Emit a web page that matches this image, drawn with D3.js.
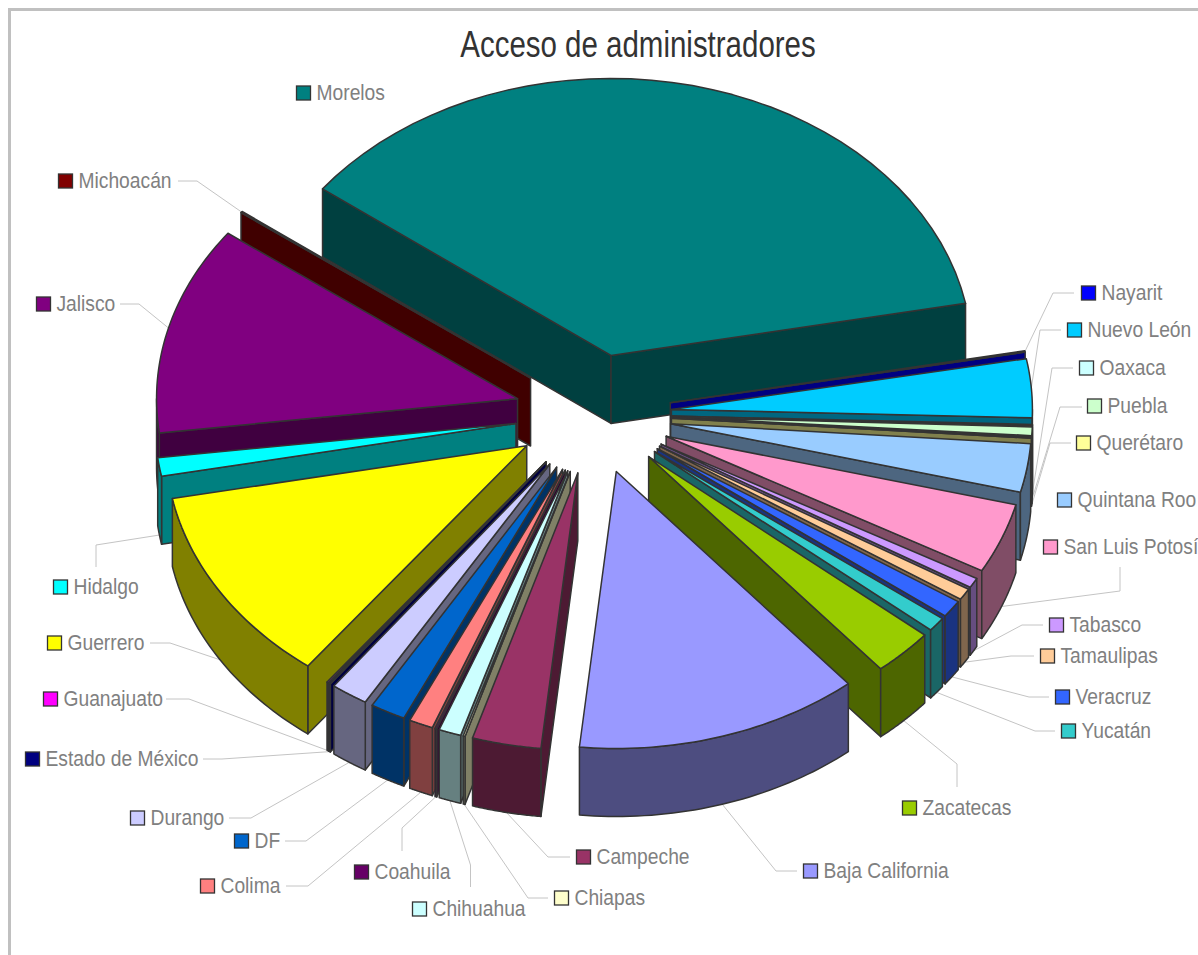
<!DOCTYPE html>
<html>
<head>
<meta charset="utf-8">
<script src="https://cdn.jsdelivr.net/npm/d3@7"></script>
<style>
  body { margin: 0; background: #fff; }
  svg { display: block; }
  text { font-family: "Liberation Sans", Arial, sans-serif; }
</style>
</head>
<body>
<svg id="chart"></svg>
<script>
const categories = ['Baja California','Campeche','Chiapas','Chihuahua','Coahuila','Colima','DF','Durango',
  'Estado de México','Guanajuato','Guerrero','Hidalgo','Jalisco','Michoacán','Morelos','Nayarit','Nuevo León',
  'Oaxaca','Puebla','Querétaro','Quintana Roo','San Luis Potosí','Tabasco','Tamaulipas','Veracruz','Yucatán','Zacatecas']
const values = [153,37,1,12,1,13,19,20,1,1,139,13,146,1,441,1,41,1,6,1,34,49,7,8,12,10,33]
const colors = ['#9999FF','#993366','#FFFFCC','#CCFFFF','#660066','#FF8080','#0066CC','#CCCCFF',
  '#000080','#FF00FF','#FFFF00','#00FFFF','#800080','#800000','#008080','#0000FF','#00CCFF',
  '#CCFFFF','#CCFFCC','#FFFF99','#99CCFF','#FF99CC','#CC99FF','#FFCC99','#3366FF','#33CCCC','#99CC00']

// legend key position (left, middle) per category
const keyPos = [[803,871],[576,857],[554,898],[412,909],[354,872],[200,886],[234,841],[130,818],
  [25,759],[43,699],[47,643],[53,587],[36,304],[58,181],[296,93],[1081,293],[1067,330],
  [1079,368],[1087,406],[1076,443],[1057,500],[1043,547],[1049,625],[1040,656],[1055,697],[1061,731],[902,808]]
// leader line: start next to the label, then elbow. The end is taken from the slice
const leaders = [[797,871,776,871],[570,857,548,857],[548,898,528,898],[470.5,887,470.5,865],[402,851,402,828],
  [286,886,308,886],[285,841,306,841],[229,818,251,818],[203,759,222,759],[166,699,189,699],[150,643,170,643],
  [96,567,96,545],[120,304,139,304],[178,181,197,181],null,[1074,293,1053,293],[1061,330,1040,330],
  [1073,368,1052,368],[1082,407,1060,407],[1071,443,1050,443],null,[1120,567,1120,591],[1043,625,1022,625],
  [1034,656,1011,656],[1049,697,1029,697],[1055,731,1035,731],[957,787,957,764]]

const w = 1198
const h = 955
const cx = 593.3, cy = 414, rx = 361, ry = 277
const depth = 68
const explode = 0.217
const firstAngle = 140 * Math.PI / 180

const svg = d3.select('#chart').attr('width', w).attr('height', h)

// frame, runs off the page on the right and at the bottom
svg.append('rect')
  .attr('x', 9.5).attr('y', 9.5)
  .attr('width', w).attr('height', h)
  .attr('fill', 'none')
  .attr('stroke', '#c0c0c0')
  .attr('stroke-width', 3)

// the reference font is a narrow one, so squeeze the text
svg.append('text')
  .attr('transform', 'translate(638,57) scale(0.797,1)')
  .attr('text-anchor', 'middle')
  .attr('font-size', 37)
  .attr('fill', '#333')
  .text('Acceso de administradores')

// the tilted pie is a unit circle squeezed into an ellipse
const xScale = d3.scaleLinear().domain([-1,1]).range([cx-rx, cx+rx])
const yScale = d3.scaleLinear().domain([-1,1]).range([cy+ry, cy-ry])

const pie = d3.pie().sort(null).startAngle(firstAngle).endAngle(firstAngle + 2*Math.PI)
const slices = pie(values).map(d => {
  let a0 = d.startAngle, a1 = d.endAngle
  if (a0 >= 2*Math.PI) { a0 -= 2*Math.PI; a1 -= 2*Math.PI }
  const mid = (a0 + a1) / 2
  return {i: d.index, a0, a1, mid, ox: explode*Math.sin(mid), oy: explode*Math.cos(mid)}
})

const pt = (s, a, down = 0) => [xScale(s.ox + Math.sin(a)), yScale(s.oy + Math.cos(a)) + down]
const apex = (s, down = 0) => [xScale(s.ox), yScale(s.oy) + down]
const arcPts = (s, a0, a1, down = 0) => d3.range(0, 41).map(k => pt(s, a0 + (a1-a0)*k/40, down))
const line = d3.line()
const closed = pts => line(pts) + 'Z'

// leader lines go below the slices
const leaderLine = svg.append('g')
slices.forEach(s => {
  const l = leaders[s.i]
  if (!l) return
  const end = pt(s, s.mid, Math.cos(s.mid) < 0 ? depth : 0)
  leaderLine.append('path')
    .attr('d', line([[l[0],l[1]],[l[2],l[3]],end]))
    .attr('fill', 'none')
    .attr('stroke', '#c4c4c4')
    .attr('stroke-width', 1)
})

// back to front
const order = slices.slice().sort((a,b) => Math.cos(b.mid) - Math.cos(a.mid))
const pieG = svg.append('g')
  .attr('stroke', '#333')
  .attr('stroke-width', 1.5)
  .attr('stroke-linejoin', 'round')

order.forEach(s => {
  const top = colors[s.i]
  const c = d3.rgb(top)
  const side = d3.rgb(c.r*0.5, c.g*0.5, c.b*0.5)

  // radial walls, only where they face the viewer
  const wall = a => closed([apex(s), pt(s,a), pt(s,a,depth), apex(s,depth)])
  if (Math.sin(s.a0) < 0) pieG.append('path').attr('d', wall(s.a0)).attr('fill', side)
  if (Math.sin(s.a1) > 0) pieG.append('path').attr('d', wall(s.a1)).attr('fill', side)

  // outer wall, front half only
  const f0 = Math.max(s.a0, Math.PI/2)
  const f1 = Math.min(s.a1, 3*Math.PI/2)
  if (f1 > f0) {
    pieG.append('path')
      .attr('d', closed(arcPts(s,f0,f1).concat(arcPts(s,f0,f1,depth).reverse())))
      .attr('fill', side)
  }

  pieG.append('path')
    .attr('d', closed([apex(s)].concat(arcPts(s,s.a0,s.a1))))
    .attr('fill', top)
})

// labels
const labels = svg.append('g')
  .selectAll('g')
  .data(categories)
  .enter()
  .append('g')
  .attr('transform', (d,i) => `translate(${keyPos[i][0]},${keyPos[i][1]})`)

labels.append('rect')
  .attr('x', 0.5).attr('y', -7)
  .attr('width', 14).attr('height', 14)
  .attr('fill', (d,i) => colors[i])
  .attr('stroke', '#333')
  .attr('stroke-width', 1.3)

labels.append('text')
  .attr('transform', 'translate(20.5,7) scale(0.875,1)')
  .attr('font-size', 22)
  .attr('fill', '#808080')
  .text(d => d)
</script>
</body>
</html>
